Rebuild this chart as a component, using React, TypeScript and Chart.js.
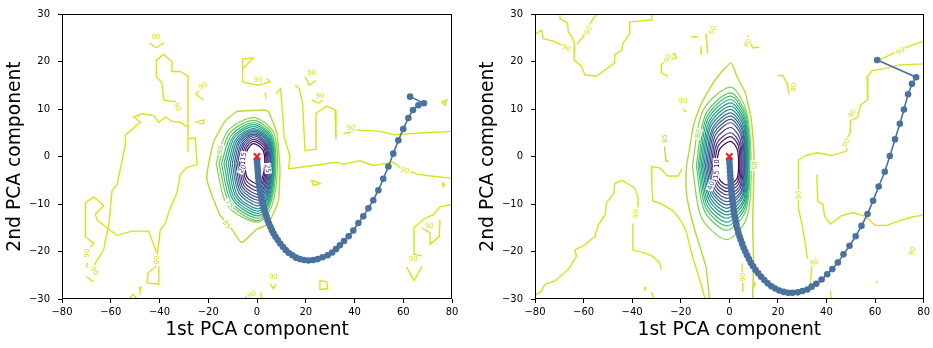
import React, { useEffect, useRef } from "react";
import { Chart, registerables } from "chart.js";

Chart.register(...registerables);

// ---------- axes ----------
const X_TICKS = [-80, -60, -40, -20, 0, 20, 40, 60, 80];
const Y_TICKS = [-30, -20, -10, 0, 10, 20, 30];
const X_TITLE = "1st PCA component";
const Y_TITLE = "2nd PCA component";

// ---------- contour levels and their viridis colours ----------
const RING_LEVELS = [10, 15, 20, 25, 30, 35, 40, 45, 50, 55, 60, 65, 70, 75, 80];
const LEVEL_COLOR: Record<number, string> = {
  10: "#440154", 15: "#481769", 20: "#472a7a", 25: "#433e85", 30: "#3e4c8a",
  35: "#375b8d", 40: "#31688e", 45: "#2b758e", 50: "#27808e", 55: "#1f958b",
  60: "#1fa188", 65: "#2ab07f", 70: "#42be71", 75: "#60ca60", 80: "#86d549",
  85: "#b0dd2f", 90: "#d8e219",
};

// ---------- left panel: optimisation path ----------
const leftTrajX = [
  0.0, 0.1, 0.2, 0.3, 0.4, 0.5, 0.7, 0.8, 1.0, 1.2, 1.4, 1.7, 2.0, 2.3, 2.7, 3.1, 3.5, 3.9,
  4.4, 4.9, 5.5, 6.1, 6.8, 7.6, 8.5, 9.5, 10.6, 11.8, 13.1, 14.5, 16.0, 17.6, 19.3, 21.1,
  23.0, 24.9, 26.9, 29.0, 30.8, 32.4, 34.0, 35.7, 37.6, 39.5, 41.6, 43.6, 45.7, 47.7, 49.8,
  51.8, 53.9, 55.9, 58.0, 60.0, 62.1, 64.0, 66.2, 68.5, 62.8,
];
const leftTrajY = [
  -0.8, -1.5, -2.2, -2.9, -3.6, -4.3, -5.0, -5.7, -6.4, -7.1, -7.8, -8.5, -9.2, -9.9, -10.6,
  -11.3, -12.0, -12.7, -13.4, -14.1, -14.8, -15.5, -16.2, -16.9, -17.6, -18.3, -19.0, -19.7,
  -20.3, -20.8, -21.3, -21.6, -21.8, -21.9, -21.8, -21.6, -21.2, -20.8, -20.2, -19.5, -18.7,
  -17.8, -16.8, -15.6, -14.0, -12.6, -10.9, -9.2, -7.1, -4.7, -2.1, 0.6, 3.4, 5.8, 8.1, 9.8,
  10.8, 11.2, 12.6,
];

// ---------- right panel: optimisation path ----------
const rightTrajX = [
  0.0, 0.1, 0.2, 0.3, 0.4, 0.5, 0.6, 0.7, 0.8, 1.0, 1.2, 1.4, 1.6, 1.8, 2.0, 2.3, 2.6, 2.9,
  3.3, 3.7, 4.2, 4.7, 5.3, 5.9, 6.6, 7.3, 8.1, 8.9, 9.8, 10.8, 11.9, 13.1, 14.4, 15.8, 17.3,
  18.9, 20.6, 22.4, 24.2, 26.0, 28.2, 30.1, 32.1, 33.9, 35.8, 38.0, 40.3, 42.4, 44.7, 47.0,
  49.5, 52.0, 54.4, 56.9, 59.2, 61.5, 64.0, 66.1, 68.2, 70.2, 71.9, 73.6, 75.2, 76.9, 60.9,
];
const rightTrajY = [
  -0.8, -1.6, -2.4, -3.2, -4.0, -4.8, -5.6, -6.4, -7.2, -8.0, -8.8, -9.6, -10.4, -11.2, -12.0,
  -12.8, -13.6, -14.4, -15.2, -16.0, -16.8, -17.6, -18.4, -19.2, -20.0, -20.8, -21.6, -22.4,
  -23.1, -23.9, -24.6, -25.3, -26.0, -26.7, -27.3, -27.8, -28.2, -28.5, -28.7, -28.7, -28.6,
  -28.3, -28.0, -27.4, -26.8, -25.9, -24.8, -23.7, -22.3, -20.6, -18.8, -16.8, -14.6, -12.1,
  -9.3, -6.3, -3.2, 0.1, 3.6, 6.9, 9.9, 13.1, 15.3, 16.7, 20.3,
];

// ---------- left panel: closed rings, levels 10..80 (x, y pairs) ----------
const leftRings: number[][] = [
  [-5.2, -1.5, -3.9, 1.4, -1.5, 2.7, 2.4, 1.4, 3.2, -1.5, 2.2, -4.5, 0.5, -5.8, -3.9, -4.5, -5.2, -1.5],
  [-5.9, -1.5, -4.4, 1.8, -1.5, 3.2, 2.8, 1.8, 3.7, -1.5, 2.5, -5.1, 0.5, -6.6, -4.4, -5.1, -5.9, -1.5],
  [-6.6, -1.5, -4.9, 2.1, -1.5, 3.6, 3.1, 2.1, 4.1, -1.5, 2.8, -5.6, 0.5, -7.3, -4.9, -5.6, -6.6, -1.5],
  [-7.3, -1.5, -5.4, 2.4, -1.5, 4.0, 3.4, 2.4, 4.5, -1.5, 3.1, -6.1, 0.5, -8.0, -5.4, -6.1, -7.3, -1.5],
  [-8.0, -1.5, -5.9, 2.6, -1.5, 4.4, 3.7, 2.6, 4.9, -1.5, 3.4, -6.5, 0.5, -8.6, -5.9, -6.5, -8.0, -1.5],
  [-8.7, -1.5, -6.4, 2.8, -1.5, 4.7, 4.0, 2.8, 5.3, -1.5, 3.7, -6.9, 0.5, -9.2, -6.4, -6.9, -8.7, -1.5],
  [-9.4, -1.5, -6.9, 3.1, -1.5, 5.0, 4.3, 3.1, 5.6, -1.5, 4.0, -7.3, 0.5, -9.8, -6.9, -7.3, -9.4, -1.5],
  [-10.2, -1.5, -7.4, 3.3, -1.5, 5.3, 4.5, 3.3, 5.9, -1.5, 4.2, -7.7, 0.5, -10.4, -7.4, -7.7, -10.2, -1.5],
  [-11.0, -1.5, -8.0, 3.5, -1.5, 5.6, 4.8, 3.5, 6.2, -1.5, 4.4, -8.2, 0.5, -11.0, -8.0, -8.2, -11.0, -1.5],
  [-11.8, -1.5, -8.6, 3.7, -1.5, 5.9, 5.0, 3.7, 6.5, -1.5, 4.6, -8.5, 0.5, -11.5, -8.6, -8.5, -11.8, -1.5],
  [-12.7, -1.5, -9.2, 4.0, -1.5, 6.3, 5.2, 4.0, 6.8, -1.5, 4.9, -8.9, 0.5, -12.0, -9.2, -8.9, -12.7, -1.5],
  [-13.6, -1.5, -9.8, 4.2, -1.5, 6.7, 5.5, 4.2, 7.1, -1.5, 5.1, -9.2, 0.5, -12.5, -9.8, -9.2, -13.6, -1.5],
  [-14.6, -1.5, -10.5, 4.5, -1.5, 7.1, 5.7, 4.5, 7.4, -1.5, 5.3, -9.6, 0.5, -13.0, -10.5, -9.6, -14.6, -1.5],
  [-15.6, -1.5, -11.2, 4.9, -1.5, 7.6, 6.0, 4.9, 7.8, -1.5, 5.6, -9.9, 0.5, -13.5, -11.2, -9.9, -15.6, -1.5],
  [-16.8, -1.5, -12.1, 5.3, -1.5, 8.2, 6.5, 5.3, 8.4, -1.5, 6.1, -10.4, 0.5, -13.8, -12.1, -10.4, -16.8, -1.5],
];
const leftOuter85 = [
  -8.3, 9.5, 2.6, 9.8, 4.6, 9.5, 8.1, 5.0, 9.4, -2.6, 8.7, -9.5, 4.5, -14.2, 0.0, -15.3, -6.3, -18.1,
  -10.0, -15.5, -15.2, -12.3, -20.6, -4.7, -17.9, 2.9, -13.0, 7.5, -8.3, 9.5,
];
const left90: number[][] = [
  [-44.2, 23.9, -41.3, 22.9, -38.3, 23.9],
  [-32.1, 9.3, -33.5, 11.5, -38.3, 11.9, -39.0, 15.5, -41.3, 16.8, -41.3, 20.3, -38.3, 21.5, -34.9, 20.0,
    -34.9, 17.9, -31.5, 17.9, -28.3, 16.9, -28.3, 1.0],
  [-28.3, 6.2, -31.5, 7.2, -34.9, 7.4, -37.6, 8.3, -40.3, 7.2, -42.4, 8.6, -47.2, 9.0, -50.6, 8.3, -47.9, 7.2,
    -54.0, 4.5, -54.0, 2.4, -55.4, -1.0, -57.4, -5.9, -59.5, -7.2, -60.2, -11.4, -60.9, -14.8, -62.2, -17.6,
    -62.9, -19.7, -66.3, -22.4, -67.0, -24.5],
  [-28.3, 3.8, -25.3, 3.9, -24.6, -1.7, -28.7, -2.3, -31.5, -3.8, -32.8, -7.6, -36.0, -11.4, -37.6, -14.1,
    -39.7, -15.5, -40.3, -18.3, -41.0, -21.0, -41.4, -23.1, -44.7, -24.5, -45.1, -26.6, -40.3, -26.9, -40.3, -23.1],
  [-68.4, -19.1, -67.0, -18.3, -70.4, -16.9, -70.4, -9.7, -67.0, -8.5, -62.9, -10.3, -66.3, -12.1, -65.6, -13.4,
    -62.2, -14.8, -57.4, -16.6, -51.3, -15.7, -44.4, -15.7, -42.4, -18.6, -41.3, -20.2],
  [-70.2, -25.2, -67.0, -26.4],
  [-69.7, -22.4, -69.9, -23.4],
  [-23.9, 13.8, -25.0, 13.1, -21.9, 11.9],
  [-25.3, 7.2, -21.9, 7.7, -21.9, 6.9, -25.3, 7.2],
  [-1.5, 20.8, -5.9, 20.5, -5.9, 15.7, 0.5, 15.0, 5.3, 15.7, 4.0, 16.4],
  [-1.5, 20.8, -5.9, 18.4],
  [3.3, 13.4, 3.5, 12.9],
  [7.8, 13.2, 9.7, 14.3, 10.5, 9.1, 11.1, 4.3, 13.5, 0.1, 12.9, -2.6, 23.1, -1.9, 32.7, -1.2, 35.4, -1.6,
    42.3, -0.9, 47.7, -1.9, 55.9, -1.2, 58.7, -2.3, 65.5, -3.7, 69.6, -4.0, 80.0, -4.6],
  [15.6, 15.0, 17.4, 14.3, 18.7, 11.2, 19.7, 1.2, 23.8, 1.5, 24.2, 9.1, 28.6, 10.6, 32.0, 9.8, 32.4, 3.6],
  [35.4, 4.8, 41.6, 5.6, 50.5, 5.3, 55.9, 4.6, 69.6, 5.0, 80.0, 5.3],
  [19.7, 16.8, 21.5, 15.0, 24.2, 16.0],
  [22.4, 11.9, 25.2, 11.2, 27.2, 11.9],
  [22.4, -5.0, 25.8, -5.7, 23.1, -6.1, 22.4, -5.0],
  [75.8, 11.5, 77.8, 11.9, 77.1, 10.8, 75.8, 11.5],
  [76.4, -5.4, 76.9, -6.1, 76.2, -6.3, 76.4, -5.4],
  [80.0, -10.1, 75.1, -10.6, 72.3, -12.3, 68.9, -13.0, 64.4, -15.0, 64.4, -20.6, 67.6, -20.9],
  [67.5, -15.0, 71.0, -16.1, 71.0, -18.5, 74.8, -16.8, 75.1, -13.3],
  [61.4, -23.3, 64.4, -26.1, 67.6, -23.2],
  [25.8, -26.1, 28.6, -26.4, 29.0, -27.8, 25.8, -28.0, 25.8, -26.1],
  [5.3, -26.8, 6.7, -27.8, 7.8, -26.8],
  [-5.5, -30.0, -3.5, -29.3],
  [1.6, -28.6, 2.0, -30.0],
  [-52.6, -30.0, -50.9, -29.0, -49.2, -30.0],
  [-48.3, -27.6, -47.6, -27.5, -47.9, -28.2, -48.3, -27.6],
];

// ---------- right panel: closed rings, levels 10..80 ----------
const rightRings: number[][] = [
  [-5.4, -2, -3.9, 1.6, 0.5, 3.2, 3.2, 1.6, 3.8, -2, 3.0, -4.8, -1.0, -6.0, -4.1, -4.8, -5.4, -2],
  [-6.2, -2, -4.5, 2.3, 0.5, 4.2, 3.7, 2.3, 4.3, -2, 3.4, -5.3, -1.0, -6.7, -4.7, -5.3, -6.2, -2],
  [-6.9, -2, -5.0, 2.9, 0.5, 5.0, 4.1, 2.9, 4.8, -2, 3.8, -5.8, -1.0, -7.4, -5.2, -5.8, -6.9, -2],
  [-7.5, -2, -5.4, 3.7, 0.5, 6.1, 4.4, 3.7, 5.2, -2, 4.2, -6.3, -1.0, -8.1, -5.6, -6.3, -7.5, -2],
  [-8.1, -2, -5.8, 4.4, 0.5, 7.1, 4.8, 4.4, 5.6, -2, 4.5, -6.8, -1.0, -8.8, -6.1, -6.8, -8.1, -2],
  [-8.7, -2, -6.3, 4.9, 0.5, 7.8, 5.1, 4.9, 6.0, -2, 4.8, -7.3, -1.0, -9.5, -6.5, -7.3, -8.7, -2],
  [-9.3, -2, -6.7, 5.4, 0.5, 8.5, 5.4, 5.4, 6.3, -2, 5.0, -7.7, -1.0, -10.2, -7.0, -7.7, -9.3, -2],
  [-9.9, -2, -7.1, 5.8, 0.5, 9.2, 5.6, 5.8, 6.6, -2, 5.3, -8.2, -1.0, -10.9, -7.4, -8.2, -9.9, -2],
  [-10.5, -2, -7.6, 6.3, 0.5, 9.9, 5.9, 6.3, 6.9, -2, 5.5, -8.7, -1.0, -11.6, -7.9, -8.7, -10.5, -2],
  [-11.1, -2, -8.0, 6.8, 0.5, 10.6, 6.1, 6.8, 7.2, -2, 5.8, -9.2, -1.0, -12.3, -8.3, -9.2, -11.1, -2],
  [-11.7, -2, -8.4, 7.3, 0.5, 11.3, 6.3, 7.3, 7.5, -2, 6.0, -9.7, -1.0, -13.0, -8.8, -9.7, -11.7, -2],
  [-12.3, -2, -8.9, 7.8, 0.5, 12.0, 6.5, 7.8, 7.8, -2, 6.2, -10.3, -1.0, -13.8, -9.2, -10.3, -12.3, -2],
  [-12.9, -2, -9.3, 8.3, 0.5, 12.7, 6.7, 8.3, 8.1, -2, 6.5, -10.8, -1.0, -14.6, -9.7, -10.8, -12.9, -2],
  [-13.6, -2, -9.8, 8.8, 0.5, 13.4, 6.9, 8.8, 8.4, -2, 6.7, -11.5, -1.0, -15.5, -10.2, -11.5, -13.6, -2],
  [-15.2, -2, -10.9, 9.6, 0.5, 14.6, 7.0, 9.6, 9.0, -2, 7.2, -12.9, -1.0, -17.5, -11.4, -12.9, -15.2, -2],
];
const rightOuter85 = [
  -8.2, -30.0, -9.6, -23.3, -13.7, -16.4, -16.5, -11.0, -17.8, -6.8, -17.6, -2.0, -16.4, 1.5, -15.0, 6.0,
  -12.5, 10.0, -9.0, 13.5, -4.5, 17.0, 0.7, 19.7, 3.2, 16.8, 6.5, 13.5, 8.8, 8.5, 9.9, 3.0, 10.2, -1.0,
  9.9, -8.0, 9.6, -14.0, 10.0, -22.0, 9.6, -30.0,
];
const rightPiece85 = [-26.7, 2.1, -26.0, -1.0, -25.0, -1.0];
const right90: number[][] = [
  [-69.7, 30.0, -69.7, 29.0, -66.6, 28.1, -66.3, 26.2, -64.5, 25.0, -63.6, 23.1, -63.9, 20.3, -60.9, 19.0,
    -59.5, 17.2, -54.7, 16.9, -47.2, 19.7, -47.2, 21.4, -44.2, 22.4, -43.8, 23.8, -41.0, 25.9, -41.0, 28.3,
    -32.1, 28.8, -31.9, 30.0],
  [-80.0, 25.7, -77.3, 26.6, -76.6, 24.8, -72.5, 24.3, -68.5, 23.3],
  [-62.8, 23.6, -60.2, 25.2, -57.4, 27.9, -54.7, 30.0],
  [-80.0, -29.3, -77.3, -28.3, -75.9, -26.9, -71.8, -26.2, -66.3, -23.8, -62.9, -21.0, -63.6, -19.7,
    -59.5, -18.6, -55.4, -16.9, -54.0, -14.5, -51.0, -12.1, -50.6, -9.7, -47.5, -7.8, -47.2, -5.7,
    -44.2, -5.0, -39.0, -6.6, -37.6, -8.6, -37.6, -10.7],
  [-39.7, -14.1, -39.7, -19.7, -34.9, -20.3, -31.5, -21.0, -28.7, -22.4, -28.0, -23.8],
  [-19.5, -2.6, -21.0, -4.1, -25.3, -4.1, -28.7, -2.4, -32.1, -2.1, -31.9, -5.9, -31.5, -9.3, -28.0, -10.0,
    -23.2, -11.4, -19.8, -13.6, -17.6, -16.0, -16.0, -19.5, -14.0, -23.0, -11.8, -26.5, -10.0, -30.0],
  [5.2, -22.5, 5.6, -28.5],
  [10.0, -26.5, 10.8, -26.8, 10.3, -27.3, 10.0, -26.5],
  [-15.7, 25.2, -13.0, 25.2],
  [-11.6, 21.4, -11.6, 23.1],
  [-9.6, 25.9, -8.9, 21.7],
  [-24.6, 20.9, -22.6, 21.7, -21.9, 20.7, -26.0, 20.3, -28.0, 19.3, -28.0, 17.6, -25.3, 16.9],
  [-19.1, 10.0, -17.8, 9.3],
  [-34.9, -27.4, -34.4, -27.7, -34.9, -28.1, -34.9, -27.4],
  [-32.1, -28.6, -30.8, -30.0],
  [59.5, 19.8, 62.9, 20.6, 68.4, 21.9, 73.9, 23.2, 80.0, 24.3],
  [80.0, 19.5, 70.0, 19.3, 62.9, 18.4, 58.8, 18.1, 56.7, 16.7, 57.0, 12.0, 54.0, 10.8, 52.8, 8.2, 50.0, 7.6,
    49.8, 5.0, 47.8, 3.3, 48.5, 1.2, 42.0, 0.2, 36.0, 0.8, 31.0, 0.1, 28.5, -0.8, 28.3, -6.0, 28.6, -11.0,
    29.8, -14.0, 31.0, -17.5, 32.2, -21.5],
  [36.0, -3.8, 36.5, -9.5, 38.5, -10.0, 39.2, -12.5, 41.7, -14.2, 46.0, -12.5, 51.0, -11.8, 56.0, -12.6,
    60.0, -14.5, 65.0, -14.5, 70.0, -13.5, 75.0, -12.8, 80.0, -12.3],
  [20.0, 17.0, 21.9, 17.1, 23.9, 15.3, 24.6, 13.0],
  [7.5, 25.5, 9.6, 22.9, 12.3, 23.0],
  [34.0, -23.0, 33.3, -27.0],
  [41.6, -28.1, 42.0, -30.0],
  [75.3, -18.8, 76.3, -20.6],
  [60.6, -26.2, 61.0, -26.6],
];

// inline contour labels: text, x, y, angle (deg), level
type ContourLabel = [string, number, number, number, number];
const leftLabels: ContourLabel[] = [
  ["90", -41.5, 25.3, 0, 90], ["90", -22.1, 14.9, -25, 90], ["90", -32.6, 10.4, 65, 90],
  ["90", -69.7, -20.3, -90, 90], ["90", -66.6, -24.1, 60, 90], ["90", -41.0, -21.8, -90, 90],
  ["90", 0.4, 16.1, 0, 90], ["90", -2.1, -29.0, -25, 90], ["90", 22.4, 17.7, 0, 90],
  ["90", 25.8, 12.7, 0, 90], ["90", 38.6, 6.0, 0, 90], ["90", 60.7, -2.9, 15, 90],
  ["90", 70.7, -14.5, 0, 90], ["90", 64.1, -21.6, 0, 90], ["90", 6.7, -25.2, 0, 90],
  ["85", -12.4, -14.3, 50, 85], ["80", -15.0, 1.4, -80, 80], ["75", -11.2, -9.9, 45, 75],
  ["15", -5.6, 0.0, -80, 15], ["20", -6.1, -2.6, -60, 20], ["25", 4.5, -2.5, 85, 25],
];
const rightLabels: ContourLabel[] = [
  ["90", -67.0, 22.9, 20, 90], ["90", -58.1, 26.6, -60, 90], ["90", -6.8, 26.6, -60, 90],
  ["90", -19.1, 11.7, 0, 90], ["90", -25.3, 20.7, -60, 90], ["90", -38.5, -12.1, -90, 90],
  ["85", -26.8, 3.8, -90, 85], ["80", -12.8, 4.8, -70, 80], ["10", -5.3, -1.5, -90, 10],
  ["15", -5.5, -3.8, -80, 15], ["40", -7.6, -6.1, -70, 40], ["85", 10.2, -1.9, 90, 85],
  ["90", 7.5, 23.9, -60, 90], ["90", 26.7, 14.6, -90, 90], ["90", 50.6, 9.1, -60, 90],
  ["90", 47.9, 2.9, -60, 90], ["90", 28.5, -8.1, -90, 90], ["90", 34.9, -22.3, -20, 90],
  ["90", 70.4, 22.2, -30, 90], ["90", 75.2, -19.9, -70, 90], ["90", 5.5, -25.4, -90, 90],
];

// ---------- helpers ----------
const FONT = "'DejaVu Sans', 'Liberation Sans', sans-serif";
const fmt = (v: number) => (v < 0 ? "\u2212" + Math.abs(v) : String(v));

function toPoints(flat: number[]) {
  const pts: { x: number; y: number }[] = [];
  for (let i = 0; i + 1 < flat.length; i += 2) pts.push({ x: flat[i], y: flat[i + 1] });
  return pts;
}

function contour(flat: number[], level: number, width: number, tension: number) {
  return {
    label: "contour" + level,
    data: toPoints(flat),
    showLine: true,
    pointRadius: 0,
    pointHoverRadius: 0,
    borderColor: LEVEL_COLOR[level],
    backgroundColor: LEVEL_COLOR[level],
    borderWidth: width,
    tension,
    fill: false,
    order: 10,
  };
}

function makeDecor(labels: ContourLabel[]) {
  return {
    id: "decor",
    beforeDatasetDraw(chart: any, args: any) {
      if (chart.data.datasets[args.index].label !== "trajectory") return;
      const { ctx, chartArea, scales } = chart;
      ctx.save();
      ctx.beginPath();
      ctx.rect(chartArea.left, chartArea.top, chartArea.right - chartArea.left, chartArea.bottom - chartArea.top);
      ctx.clip();
      ctx.font = `7px ${FONT}`;
      ctx.textAlign = "center";
      ctx.textBaseline = "middle";
      for (const [text, x, y, ang, level] of labels) {
        const px = scales.x.getPixelForValue(x);
        const py = scales.y.getPixelForValue(y);
        ctx.save();
        ctx.translate(px, py);
        ctx.rotate((ang * Math.PI) / 180);
        const w = ctx.measureText(text).width;
        ctx.fillStyle = "#ffffff";
        ctx.fillRect(-w / 2 - 1, -3.5, w + 2, 7);
        ctx.fillStyle = LEVEL_COLOR[level];
        ctx.fillText(text, 0, 0.5);
        ctx.restore();
      }
      ctx.restore();
    },
    afterDraw(chart: any) {
      const { ctx, chartArea } = chart;
      ctx.save();
      ctx.strokeStyle = "#000000";
      ctx.lineWidth = 1;
      ctx.strokeRect(
        Math.round(chartArea.left) + 0.5,
        Math.round(chartArea.top) + 0.5,
        Math.round(chartArea.right - chartArea.left) - 1,
        Math.round(chartArea.bottom - chartArea.top) - 1
      );
      ctx.restore();
    },
  };
}

function buildConfig(opts: {
  rings: number[][];
  outer85: number[];
  extra85: number[][];
  lines90: number[][];
  trajX: number[];
  trajY: number[];
  labels: ContourLabel[];
  axisWidth: number;
  rightPad: number;
  titlePad: number;
}): any {
  const datasets: any[] = [];
  datasets.push({
    label: "origin",
    data: [{ x: 0, y: 0 }],
    showLine: false,
    pointStyle: "crossRot",
    pointRadius: 4.5,
    pointHoverRadius: 4.5,
    pointBorderWidth: 2.2,
    pointBorderColor: "#e3242b",
    pointBackgroundColor: "#e3242b",
    order: 0,
  });
  datasets.push({
    label: "trajectory",
    data: opts.trajX.map((x, i) => ({ x, y: opts.trajY[i] })),
    showLine: true,
    borderColor: "#4a72a0",
    backgroundColor: "#4a72a0",
    borderWidth: 1.6,
    pointRadius: 3.3,
    pointHoverRadius: 3.3,
    pointBorderWidth: 0,
    pointBackgroundColor: "#4a72a0",
    order: 1,
  });
  opts.rings.forEach((ring, i) => datasets.push(contour(ring, RING_LEVELS[i], 1.2, 0.3)));
  datasets.push(contour(opts.outer85, 85, 1.4, 0.15));
  opts.extra85.forEach((p) => datasets.push(contour(p, 85, 1.4, 0)));
  opts.lines90.forEach((p) => datasets.push(contour(p, 90, 1.4, 0)));

  const tickFont = { family: FONT, size: 10 };
  const titleFont = { family: FONT, size: 18.7 };
  return {
    type: "scatter",
    data: { datasets },
    options: {
      responsive: false,
      animation: false,
      events: [],
      devicePixelRatio: 1,
      layout: { padding: { left: 0, top: 9, right: opts.rightPad, bottom: 0 } },
      plugins: { legend: { display: false }, tooltip: { enabled: false } },
      scales: {
        x: {
          type: "linear",
          min: -80,
          max: 80,
          afterBuildTicks: (s: any) => {
            s.ticks = X_TICKS.map((v) => ({ value: v }));
          },
          afterFit: (s: any) => {
            s.height = 49;
          },
          ticks: { callback: (v: number) => fmt(v), font: tickFont, color: "#000", padding: 3, maxRotation: 0, autoSkip: false },
          grid: { display: true, drawOnChartArea: false, drawTicks: true, tickLength: 4, color: "#000" },
          border: { display: false },
          title: { display: true, text: X_TITLE, font: titleFont, color: "#000", padding: { top: 0, bottom: 6.8 } },
        },
        y: {
          type: "linear",
          min: -30,
          max: 30,
          afterBuildTicks: (s: any) => {
            s.ticks = Y_TICKS.map((v) => ({ value: v }));
          },
          afterFit: (s: any) => {
            s.width = opts.axisWidth;
          },
          ticks: { callback: (v: number) => fmt(v), font: tickFont, color: "#000", padding: 8, autoSkip: false },
          grid: { display: true, drawOnChartArea: false, drawTicks: true, tickLength: 4, color: "#000" },
          border: { display: false },
          title: { display: true, text: Y_TITLE, font: titleFont, color: "#000", padding: { top: opts.titlePad, bottom: 0 } },
        },
      },
    },
    plugins: [makeDecor(opts.labels)],
  };
}

export default function App() {
  const leftRef = useRef<HTMLCanvasElement>(null);
  const rightRef = useRef<HTMLCanvasElement>(null);

  useEffect(() => {
    const left = new Chart(
      leftRef.current as HTMLCanvasElement,
      buildConfig({
        rings: leftRings,
        outer85: leftOuter85,
        extra85: [],
        lines90: left90,
        trajX: leftTrajX,
        trajY: leftTrajY,
        labels: leftLabels,
        axisWidth: 62,
        rightPad: 14,
        titlePad: 4.2,
      })
    );
    const right = new Chart(
      rightRef.current as HTMLCanvasElement,
      buildConfig({
        rings: rightRings,
        outer85: rightOuter85,
        extra85: [rightPiece85],
        lines90: right90,
        trajX: rightTrajX,
        trajY: rightTrajY,
        labels: rightLabels,
        axisWidth: 69,
        rightPad: 8,
        titlePad: 11.2,
      })
    );
    return () => {
      left.destroy();
      right.destroy();
    };
  }, []);

  return (
    <div style={{ position: "absolute", left: 0, top: 0, width: 933, height: 348, background: "#ffffff" }}>
      <canvas
        ref={leftRef}
        width={466}
        height={348}
        style={{ position: "absolute", left: 0, top: 0, width: 466, height: 348, display: "block" }}
      />
      <canvas
        ref={rightRef}
        width={467}
        height={348}
        style={{ position: "absolute", left: 466, top: 0, width: 467, height: 348, display: "block" }}
      />
    </div>
  );
}
